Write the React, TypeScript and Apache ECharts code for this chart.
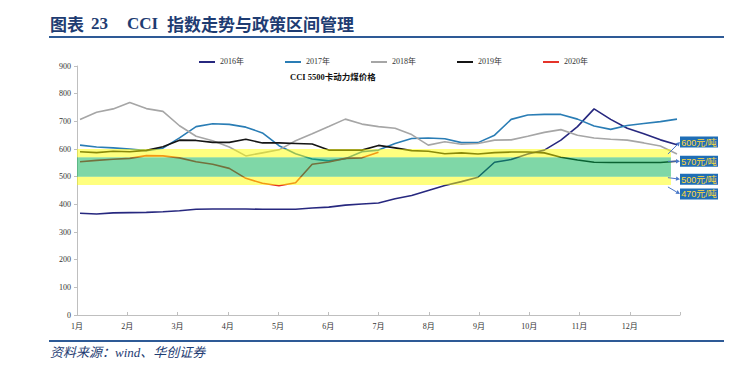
import React, { useEffect, useRef } from "react";
import * as echarts from "echarts";

// ---- data ----
const monthLabels = ["1月", "2月", "3月", "4月", "5月", "6月", "7月", "8月", "9月", "10月", "11月", "12月"];
// samples are taken about every ten days; position in months from Jan 1
const sampleStart = 0.06;
const sampleStep = 0.33;

const s2016 = [368, 365, 369, 370, 371, 373, 377, 382, 383, 383, 383, 382, 382, 382, 387, 390, 397, 401, 405, 420, 432, 450, 468, 482, 498, 552, 562, 582, 596, 632, 681, 745, 707, 675, 655, 633, 615];
const s2017 = [614, 607, 604, 600, 594, 603, 640, 681, 691, 689, 679, 658, 612, 583, 564, 557, 565, 590, 596, 620, 638, 640, 637, 623, 623, 650, 707, 723, 725, 725, 708, 683, 671, 685, 692, 699, 708];
const s2018 = [707, 733, 745, 768, 746, 736, 684, 646, 630, 607, 575, 586, 597, 630, 655, 681, 708, 690, 681, 675, 652, 614, 626, 617, 620, 632, 633, 646, 660, 670, 650, 640, 635, 632, 622, 611, 582];
const s2019 = [590, 587, 592, 590, 595, 608, 632, 631, 624, 624, 635, 622, 622, 620, 618, 596, 596, 596, 613, 604, 594, 592, 583, 586, 582, 587, 589, 589, 586, 570, 560, 552, 551, 551, 551, 551, 556];
const s2020 = [554, 559, 563, 566, 576, 575, 568, 554, 545, 530, 494, 476, 467, 478, 545, 553, 566, 568, 588];

const seriesNames = ["2016年", "2017年", "2018年", "2019年", "2020年"];
const seriesValues = [s2016, s2017, s2018, s2019, s2020];

// policy bands (元/吨)
const bandLows = [470, 500, 570];
const bandHighs = [500, 570, 600];
const bandKinds = [0, 1, 0]; // 0 = outer (yellow), 1 = inner (green)
const bandEndMonth = 11.82;
const levelMarks = [600, 570, 500, 470];

// ---- styles ----
const lineColors = ["#27287F", "#2A7DB5", "#A6A6A6", "#151515", "#E5332A"];
const bandColors = ["rgba(255,255,0,0.5)", "rgba(0,176,80,0.5)"];
const boxDy = [-7, 4, 2.5, 9];
const arrowDy = [5, 4, 1, 2];
const arrowStartMonth = 11.76;
const navy = "#1E3C72";
const serif = '"Liberation Serif", "Times New Roman", "Noto Sans CJK SC", serif';
const cjk = '"Noto Sans CJK SC", sans-serif';
const boxFont = '"Liberation Sans", "Noto Sans CJK SC", sans-serif';

export default function App() {
  const ref = useRef<HTMLDivElement>(null);
  useEffect(() => {
    if (!ref.current) return;
    const chart = echarts.init(ref.current, undefined, { renderer: "svg" });

    const lineSeries = seriesValues.map((vals, k) => ({
      type: "line",
      name: seriesNames[k],
      data: vals.map((v, i) => [sampleStart + i * sampleStep, v]),
      showSymbol: false,
      symbol: "none",
      z: 2,
      lineStyle: { width: 1.6, color: lineColors[k] },
      itemStyle: { color: lineColors[k] },
    }));

    const bandSeries = {
      type: "custom",
      name: "bands",
      z: 3,
      silent: true,
      encode: { x: 0, y: [1, 2] },
      data: bandLows.map((lo, i) => [0, lo, bandHighs[i], bandKinds[i]]),
      renderItem: (params: any, api: any) => {
        const lo = api.value(1);
        const hi = api.value(2);
        const kind = api.value(3);
        const p1 = api.coord([0, hi]);
        const p2 = api.coord([bandEndMonth, lo]);
        return {
          type: "rect",
          shape: { x: p1[0], y: p1[1], width: p2[0] - p1[0], height: p2[1] - p1[1] },
          style: { fill: bandColors[kind] },
        };
      },
    };

    const annoSeries = {
      type: "custom",
      name: "levels",
      z: 4,
      silent: true,
      clip: false,
      encode: { x: 0, y: 1 },
      data: levelMarks.map((v) => [12, v]),
      renderItem: (params: any, api: any) => {
        const idx = params.dataIndex;
        const level = api.value(1);
        const end = api.coord([12, level]);
        const start = api.coord([arrowStartMonth, level]);
        const sx = start[0];
        const sy = start[1] + arrowDy[idx];
        const bx = end[0];
        const by = end[1] + boxDy[idx];
        const dx = bx - sx;
        const dy = by - sy;
        const len = Math.sqrt(dx * dx + dy * dy) || 1;
        const ux = dx / len;
        const uy = dy / len;
        const hx = bx - ux * 4;
        const hy = by - uy * 4;
        return {
          type: "group",
          children: [
            {
              type: "line",
              shape: { x1: sx, y1: sy, x2: hx, y2: hy },
              style: { stroke: "#4A78C8", lineWidth: 1 },
            },
            {
              type: "polygon",
              shape: {
                points: [
                  [bx, by],
                  [hx - uy * 2.2, hy + ux * 2.2],
                  [hx + uy * 2.2, hy - ux * 2.2],
                ],
              },
              style: { fill: "#4A78C8" },
            },
            {
              type: "rect",
              shape: { x: bx, y: by - 5.5, width: 38, height: 11 },
              style: { fill: "#1F6EB6" },
            },
            {
              type: "text",
              style: {
                text: `${level}元/吨`,
                x: bx + 19,
                y: by + 0.5,
                align: "center",
                verticalAlign: "middle",
                fill: "#FFD93B",
                fontSize: 9,
                fontFamily: boxFont,
              },
            },
          ],
        };
      },
    };

    chart.setOption({
      animation: false,
      backgroundColor: "#ffffff",
      grid: { left: 77, right: 76, top: 66, bottom: 68, containLabel: false },
      legend: {
        data: seriesNames,
        left: 194,
        top: 53,
        icon: "rect",
        itemWidth: 16,
        itemHeight: 2,
        itemGap: 41,
        textStyle: { fontSize: 8, fontFamily: serif, color: "#333" },
      },
      xAxis: {
        type: "value",
        min: 0,
        max: 12,
        interval: 1,
        axisLine: { show: true, lineStyle: { color: "#BFBFBF", width: 1 } },
        axisTick: { show: true, inside: true, length: 3, lineStyle: { color: "#BFBFBF" } },
        splitLine: { show: false },
        axisLabel: {
          margin: 7,
          fontSize: 8,
          fontFamily: serif,
          color: "#333",
          formatter: (v: number) => monthLabels[Math.round(v)] ?? "",
        },
      },
      yAxis: {
        type: "value",
        min: 0,
        max: 900,
        interval: 100,
        axisLine: { show: true, lineStyle: { color: "#BFBFBF", width: 1 } },
        axisTick: { show: true, length: 3, lineStyle: { color: "#BFBFBF" } },
        splitLine: { show: false },
        axisLabel: { margin: 6, fontSize: 8, fontFamily: serif, color: "#333" },
      },
      graphic: [
        { type: "text", left: 50, top: 15, style: { text: "图表", font: `bold 17px ${cjk}`, fill: navy } },
        { type: "text", left: 91, top: 15, style: { text: "23", font: `bold 17px ${serif}`, fill: navy } },
        { type: "text", left: 127, top: 15, style: { text: "CCI", font: `bold 17px ${serif}`, fill: navy } },
        { type: "text", left: 167, top: 15, style: { text: "指数走势与政策区间管理", font: `bold 17px ${cjk}`, fill: navy } },
        { type: "rect", shape: { x: 49, y: 36, width: 675, height: 2 }, style: { fill: "#2E5A96" } },
        { type: "text", left: 290, top: 73, style: { text: "CCI 5500卡动力煤价格", font: `bold 8.5px ${serif}`, fill: "#111" } },
        { type: "rect", shape: { x: 49, y: 340, width: 675, height: 2 }, style: { fill: "#2E5A96" } },
        { type: "text", left: 50, top: 346, style: { text: "资料来源：wind、华创证券", font: `italic 13px ${serif}`, fill: navy } },
      ],
      series: [...lineSeries, bandSeries, annoSeries],
    });
    return () => chart.dispose();
  }, []);
  return <div ref={ref} style={{ position: "fixed", left: 0, top: 0, width: 756, height: 383 }} />;
}
